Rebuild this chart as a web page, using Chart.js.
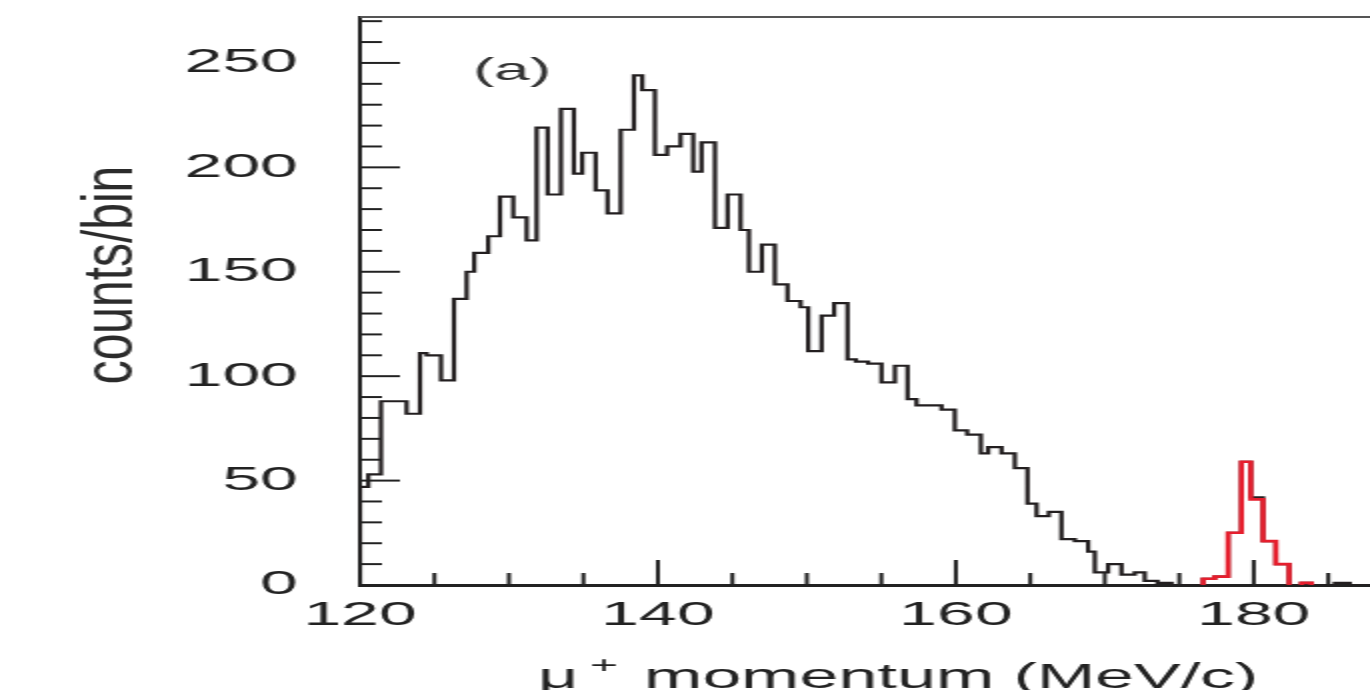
<!DOCTYPE html>
<html>
<head>
<meta charset="utf-8">
<title>mu+ momentum spectrum</title>
<script src="https://cdn.jsdelivr.net/npm/chart.js@4.4.1/dist/chart.umd.min.js"></script>
<style>
  html, body { margin: 0; padding: 0; background: #fff; overflow: hidden; }
  /* the original figure is stretched sideways, so the whole chart is drawn narrow and widened */
  #wrap { width: 685px; height: 690px; transform: scaleX(2); transform-origin: 0 0; }
  #spectrum { display: block; width: 685px; height: 690px; }
</style>
</head>
<body>
<div id="wrap"><canvas id="spectrum" width="685" height="690"></canvas></div>
<script>
// -------------------------- Data --------------------------

// bin edges in MeV/c, one more edge than counts
const binEdges = [120.00, 120.56, 121.41, 123.13, 124.03, 124.48, 125.44, 126.31, 127.16, 127.67,
  128.61, 129.40, 130.29, 131.19, 131.86, 132.60, 133.49, 134.36, 134.92, 135.82,
  136.62, 137.50, 138.39, 138.95, 139.80, 140.62, 141.52, 142.37, 142.93, 143.83,
  144.68, 145.55, 146.11, 146.98, 147.85, 148.70, 149.58, 150.09, 150.99, 151.83,
  152.73, 153.29, 154.11, 155.01, 155.91, 156.76, 157.36, 159.04, 159.93, 160.76,
  161.68, 162.17, 163.07, 163.96, 164.81, 165.42, 166.24, 167.09, 167.99, 168.88,
  169.33, 170.22, 171.12, 172.01, 172.68, 173.54, 174.48, 176.60, 177.38, 178.28,
  179.17, 179.80, 180.62, 181.48, 182.37, 183.20, 183.87, 185.44, 186.44, 188.00];

// all events (black)
const binCounts = [47, 53, 88, 82, 111, 110, 98, 137, 150, 159,
  167, 186, 176, 165, 219, 187, 228, 197, 207, 189,
  178, 218, 244, 237, 206, 210, 216, 198, 212, 171,
  187, 170, 150, 163, 144, 136, 133, 112, 129, 135,
  108, 107, 106, 97, 105, 89, 86, 84, 74, 72,
  63, 66, 63, 56, 39, 33, 35, 22, 21, 16,
  6, 10, 5, 6, 2, 1, 0, 3, 4, 25,
  59, 42, 21, 10, 0, 1, 0, 1, 0];

// pi -> mu nu peak (red)
const peakEdges = [176.60, 177.38, 178.28, 179.17, 179.80, 180.62, 181.48, 182.37, 183.20, 183.87];
const peakCounts = [3, 4, 25, 59, 41, 21, 10, 0, 1];

const xTickLabels = [120, 140, 160, 180];
const yTickLabels = [0, 50, 100, 150, 200, 250];

const FONT = '"Liberation Sans", Arial, sans-serif';

// -------------------------- Helpers --------------------------

// histogram outline as points for a stepped line ('after' mode)
function steps(edges, counts, gapOnZero) {
  const pts = [];
  let open = false;
  counts.forEach((c, i) => {
    if (gapOnZero && c === 0) {
      if (open) { pts.push({x: edges[i], y: 0}, {x: edges[i], y: null}); open = false; }
      return;
    }
    if (!open) { pts.push({x: edges[i], y: 0}); open = true; }
    pts.push({x: edges[i + 1], y: c});
  });
  if (open) pts.push({x: edges[counts.length], y: 0});
  return pts;
}

// inward ticks, top frame line and the titles
const frameAndTitles = {
  id: 'frameAndTitles',
  afterDraw(chart) {
    const {ctx, chartArea: a, scales: {x, y}} = chart;
    ctx.save();
    ctx.lineWidth = 2;
    ctx.strokeStyle = '#555';
    ctx.beginPath(); ctx.moveTo(a.left, a.top); ctx.lineTo(a.right, a.top); ctx.stroke();

    ctx.strokeStyle = '#222';
    y.ticks.forEach(t => {
      const py = y.getPixelForValue(t.value);
      const len = t.label !== '' ? 20 : 11;
      ctx.beginPath(); ctx.moveTo(a.left, py); ctx.lineTo(a.left + len, py); ctx.stroke();
    });
    x.ticks.forEach(t => {
      const px = x.getPixelForValue(t.value);
      const len = t.label !== '' ? 25 : 12;
      ctx.beginPath(); ctx.moveTo(px, a.bottom); ctx.lineTo(px, a.bottom - len); ctx.stroke();
    });

    ctx.fillStyle = '#222';
    ctx.textBaseline = 'alphabetic';

    // y title
    ctx.save();
    ctx.translate(66, 275);
    ctx.rotate(-Math.PI / 2);
    ctx.scale(1.37, 1);
    ctx.textAlign = 'center';
    ctx.fillStyle = '#2b2b2b';
    ctx.font = '35px ' + FONT;
    ctx.fillText('counts/bin', 0, 0);
    ctx.restore();

    // x title
    ctx.textAlign = 'left';
    ctx.font = '35px ' + FONT;
    ctx.fillText('μ', 269, 688);
    ctx.font = '24px ' + FONT;
    ctx.fillText('+', 295, 673);
    ctx.font = '35px ' + FONT;
    ctx.fillText('momentum (MeV/c)', 322, 688);

    // panel label
    ctx.fillStyle = '#333';
    ctx.textAlign = 'center';
    ctx.font = '32px ' + FONT;
    ctx.fillText('(a)', 256, 80);
    ctx.restore();
  }
};

// -------------------------- Chart --------------------------

const ctx = document.getElementById('spectrum').getContext('2d');
const spectrum = new Chart(ctx, {
  type: 'line',
  data: {
    datasets: [
      { label: 'peak', data: steps(peakEdges, peakCounts, true), borderColor: '#e61e2d',
        borderWidth: 2.6, stepped: 'after', pointRadius: 0, fill: false, spanGaps: false },
      { label: 'all', data: steps(binEdges, binCounts, false), borderColor: '#231f20',
        borderWidth: 2.2, stepped: 'after', pointRadius: 0, fill: false }
    ]
  },
  options: {
    responsive: false,
    devicePixelRatio: 1,
    animation: false,
    layout: { padding: { top: 17, right: 0, bottom: 0, left: 0 } },
    plugins: { legend: { display: false }, tooltip: { enabled: false } },
    scales: {
      x: {
        type: 'linear', min: 120, max: 187.8,
        grid: { display: false, drawTicks: false },
        border: { display: true, color: '#222', width: 3 },
        ticks: {
          stepSize: 5, autoSkip: false, includeBounds: false, maxRotation: 0, padding: 10,
          color: '#222', font: { family: FONT, size: 34 },
          callback: v => xTickLabels.includes(v) ? v : ''
        },
        afterFit: s => { s.height = 105; s.paddingLeft = 0; s.paddingRight = 0; }
      },
      y: {
        type: 'linear', min: 0, max: 272,
        grid: { display: false, drawTicks: false },
        border: { display: true, color: '#222', width: 2 },
        ticks: {
          stepSize: 10, autoSkip: false, includeBounds: false, padding: 31,
          color: '#222', font: { family: FONT, size: 34 },
          callback: v => yTickLabels.includes(v) ? v : ''
        },
        afterFit: s => { s.width = 180; s.paddingTop = 0; s.paddingBottom = 0; }
      }
    }
  },
  plugins: [frameAndTitles]
});
</script>
</body>
</html>
